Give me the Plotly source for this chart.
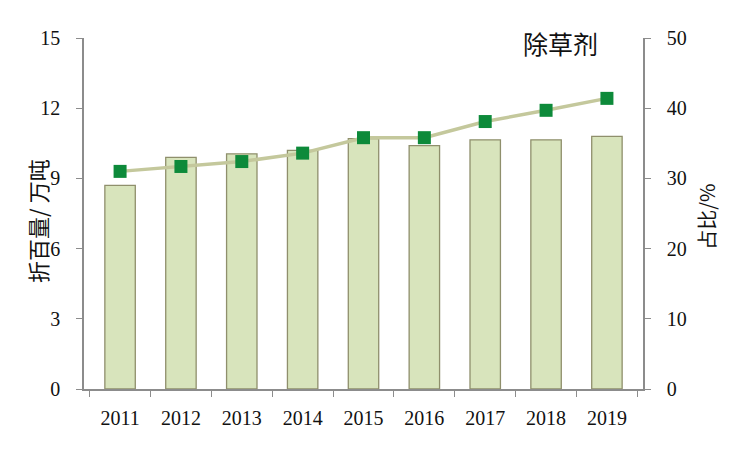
import plotly.graph_objects as go

years = ["2011", "2012", "2013", "2014", "2015", "2016", "2017", "2018", "2019"]
volume = [8.7, 9.9, 10.05, 10.2, 10.7, 10.4, 10.65, 10.65, 10.8]
share = [31.0, 31.7, 32.4, 33.6, 35.8, 35.8, 38.1, 39.7, 41.4]
left_ticks = [0, 3, 6, 9, 12, 15]
right_ticks = [0, 10, 20, 30, 40, 50]

serif = "Liberation Serif"
cjk = "Noto Sans CJK SC"
axis_col = "#8c8c8c"

fig = go.Figure()
fig.add_trace(go.Bar(
    x=years, y=volume,
    marker=dict(color="#d8e4bc", line=dict(color="#8f8f6c", width=1.3)),
    showlegend=False,
))
fig.add_trace(go.Scatter(
    x=years, y=share, yaxis="y2", mode="lines+markers",
    line=dict(color="#c4c89c", width=3.5),
    marker=dict(symbol="square", size=13, color="#0d8a3a"),
    showlegend=False,
))

fig.update_layout(
    width=734, height=453,
    margin=dict(l=76, r=99, t=30, b=72),
    paper_bgcolor="white", plot_bgcolor="white",
    bargap=0.5,
    xaxis=dict(
        automargin=False,
        showline=True, linecolor=axis_col, linewidth=1.5,
        ticks="outside", tickcolor=axis_col, ticklen=6, tickwidth=1.2,
        tickson="boundaries", ticklabelstandoff=10,
        tickfont=dict(family=serif, size=20, color="#111"),
        showgrid=False,
    ),
    yaxis=dict(
        automargin=False,
        range=[0, 15], tickvals=left_ticks,
        showline=True, linecolor=axis_col, linewidth=1.5,
        ticks="outside", tickcolor=axis_col, ticklen=6, tickwidth=1.2,
        ticklabelstandoff=12,
        tickfont=dict(family=serif, size=20, color="#111"),
        showgrid=False, zeroline=False,
    ),
    yaxis2=dict(
        automargin=False,
        range=[0, 50], tickvals=right_ticks, overlaying="y", side="right",
        showline=True, linecolor=axis_col, linewidth=1.5,
        ticks="outside", tickcolor=axis_col, ticklen=6, tickwidth=1.2,
        ticklabelstandoff=12,
        tickfont=dict(family=serif, size=20, color="#111"),
        showgrid=False, zeroline=False,
    ),
    annotations=[
        dict(
            text="除草剂", xref="paper", yref="paper", x=0.853, y=0.986,
            xanchor="center", yanchor="middle", showarrow=False,
            font=dict(family=cjk, size=25, color="#111"),
        ),
        dict(
            text="折百量/ 万吨", xref="paper", yref="paper", x=-0.084, y=0.479,
            xanchor="center", yanchor="middle", showarrow=False, textangle=-90,
            font=dict(family=cjk, size=22, color="#111"),
        ),
        dict(
            text="占比/%", xref="paper", yref="paper", x=1.113, y=0.491,
            xanchor="center", yanchor="middle", showarrow=False, textangle=-90,
            font=dict(family=cjk, size=20, color="#111"),
        ),
    ],
)

fig.write_html("out.html")
